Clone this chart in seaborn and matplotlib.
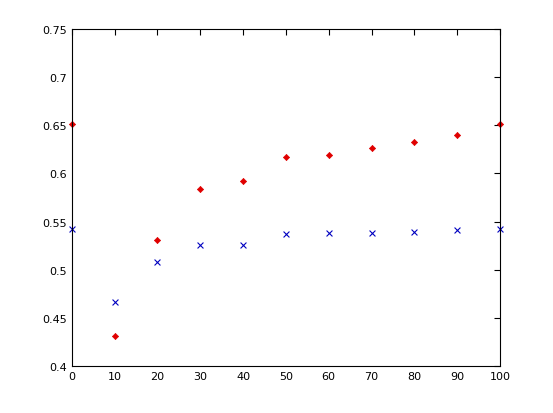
import numpy as np
import matplotlib
matplotlib.use("Agg")
import matplotlib.pyplot as plt
import seaborn as sns
import pandas as pd

sns.set_style("white")
plt.rcParams['font.family'] = ['DejaVu Sans']

x_vals = [0, 10, 20, 30, 40, 50, 60, 70, 80, 90, 100]
red_vals = [0.651, 0.431, 0.531, 0.584, 0.592, 0.617, 0.619, 0.626, 0.633, 0.640, 0.651]
blue_vals = [0.542, 0.467, 0.508, 0.526, 0.526, 0.537, 0.538, 0.538, 0.539, 0.541, 0.542]
y_ticks = [0.4, 0.45, 0.5, 0.55, 0.6, 0.65, 0.7, 0.75]
y_ticklabels = ['0.4', '0.45', '0.5', '0.55', '0.6', '0.65', '0.7', '0.75']

df = pd.DataFrame({'x': x_vals, 'red': red_vals, 'blue': blue_vals})

fig = plt.figure(figsize=(5.53, 4.14), dpi=100)
ax = fig.add_axes([0.130, 0.1135, 0.774, 0.814])

sns.scatterplot(data=df, x='x', y='red', ax=ax, marker='D', s=10,
                color='#e00000', edgecolor='#e00000', linewidth=0.5, clip_on=False)
sns.scatterplot(data=df, x='x', y='blue', ax=ax, marker='x', s=18,
                color='#0000c0', linewidth=0.8, clip_on=False)

ax.set_xlim(0, 100)
ax.set_ylim(0.4, 0.75)
ax.set_xticks(x_vals)
ax.set_yticks(y_ticks)
ax.set_yticklabels(y_ticklabels)
ax.set_xlabel('')
ax.set_ylabel('')
ax.tick_params(direction='in', length=4, width=0.8, top=True, right=True,
               labelsize=8, colors='black')
for sp in ax.spines.values():
    sp.set_color('black')
    sp.set_linewidth(0.8)

fig.savefig('out.png', dpi=100)
